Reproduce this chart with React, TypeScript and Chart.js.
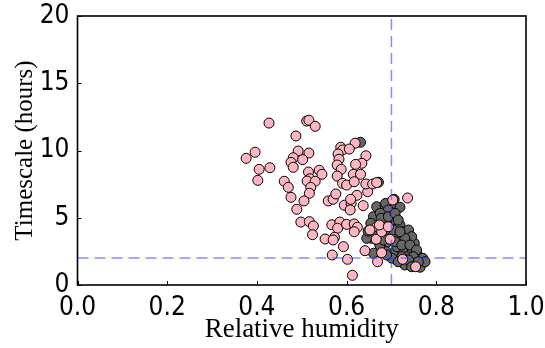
import React, { useEffect, useRef } from "react";
import { Chart, registerables } from "chart.js";

Chart.register(...registerables);

// Pink series (relative humidity, timescale in hours)
const pinkX = [
  0.427, 0.511, 0.516, 0.530, 0.487, 0.376, 0.396, 0.492, 0.516, 0.481,
  0.476, 0.481, 0.502, 0.405, 0.429, 0.402, 0.461, 0.470, 0.515, 0.539,
  0.545, 0.518, 0.512, 0.530, 0.520, 0.517, 0.476, 0.505, 0.489, 0.559,
  0.570, 0.576, 0.595, 0.610, 0.608, 0.623, 0.637, 0.647, 0.498, 0.517,
  0.526, 0.524, 0.567, 0.585, 0.580, 0.573, 0.552, 0.570, 0.600, 0.617,
  0.624, 0.617, 0.593, 0.568, 0.602, 0.641, 0.613, 0.667, 0.666, 0.669,
  0.587, 0.591, 0.581, 0.619, 0.606, 0.583, 0.579, 0.588, 0.643, 0.634,
  0.620, 0.579, 0.591, 0.600, 0.615, 0.631, 0.617, 0.643, 0.658, 0.609,
  0.736, 0.652, 0.678, 0.673, 0.703, 0.697, 0.678, 0.725, 0.754, 0.667,
  0.693,
];
const pinkY = [
  12.04, 12.19, 12.25, 11.80, 11.08, 9.42, 9.87, 9.96, 9.81, 9.46,
  9.12, 8.75, 9.32, 8.60, 8.72, 7.78, 7.71, 7.26, 8.40, 8.53,
  8.23, 7.90, 7.73, 7.71, 7.26, 6.82, 6.52, 6.25, 5.63, 6.25,
  6.37, 6.77, 5.93, 6.07, 5.58, 6.67, 5.90, 6.94, 4.68, 4.71,
  4.39, 3.74, 4.48, 4.68, 4.22, 3.55, 3.42, 3.35, 4.51, 4.54,
  4.29, 3.96, 2.85, 2.23, 1.91, 2.55, 0.72, 4.33, 3.40, 1.73,
  10.24, 10.04, 9.74, 10.54, 10.11, 9.35, 8.92, 8.60, 9.61, 9.05,
  8.97, 8.10, 7.56, 7.43, 8.23, 8.23, 7.68, 7.51, 7.51, 6.37,
  6.47, 4.09, 3.96, 4.46, 6.32, 3.40, 2.40, 1.91, 1.36, 7.61,
  4.33,
];

// Gray series
const grayX = [
  0.631, 0.671, 0.667, 0.686, 0.706, 0.708, 0.719, 0.678, 0.660, 0.698,
  0.706, 0.689, 0.719, 0.725, 0.732, 0.713, 0.704, 0.656, 0.645, 0.671,
  0.689, 0.719, 0.734, 0.751, 0.741, 0.708, 0.725, 0.756, 0.770, 0.749,
  0.764, 0.730, 0.701, 0.688, 0.660, 0.674, 0.734, 0.712, 0.687, 0.693,
  0.675, 0.654, 0.677, 0.693, 0.708, 0.715, 0.738, 0.745, 0.730, 0.719,
  0.686, 0.667, 0.682, 0.708, 0.723, 0.741, 0.756, 0.749, 0.775, 0.760,
  0.738, 0.723, 0.689, 0.715, 0.745, 0.648,
];
const grayY = [
  10.61, 7.64, 5.82, 5.87, 6.37, 5.82, 5.78, 5.20, 5.08, 5.20,
  4.83, 4.59, 4.46, 3.96, 3.64, 3.84, 4.09, 3.47, 3.47, 3.22,
  3.14, 3.22, 3.22, 3.10, 2.73, 2.48, 2.48, 2.36, 1.99, 1.73,
  1.32, 1.49, 1.99, 2.48, 2.36, 2.97, 2.10, 2.85, 6.07, 5.58,
  5.33, 4.59, 4.96, 5.08, 5.33, 4.83, 4.09, 3.59, 3.47, 3.96,
  4.09, 3.96, 3.35, 3.22, 2.97, 2.97, 2.60, 2.10, 1.73, 1.73,
  1.86, 2.10, 2.23, 1.73, 1.36, 4.01,
];

// Reference lines
const rhThreshold = [0.7];
const timeThreshold = [2];

const xTickValues = [0, 0.2, 0.4, 0.6, 0.8, 1.0];
const xTickLabels = ["0.0", "0.2", "0.4", "0.6", "0.8", "1.0"];
const yTickValues = [0, 5, 10, 15, 20];
const yTickLabels = ["0", "5", "10", "15", "20"];

const xTitle = "Relative humidity";
const yTitle = "Timescale (hours)";

const tickFont = "'DejaVu Sans Condensed', 'DejaVu Sans', sans-serif";
const titleFont = "'Liberation Serif', 'DejaVu Serif', serif";

const framePlugin = {
  id: "frameTicks",
  afterDraw(chart: any) {
    const { ctx, chartArea, scales } = chart;
    const { left, right, top, bottom } = chartArea;
    ctx.save();
    ctx.strokeStyle = "#000";
    ctx.lineWidth = 1;
    ctx.beginPath();
    xTickValues.forEach((v) => {
      const px = Math.round(scales.x.getPixelForValue(v)) + 0.5;
      ctx.moveTo(px, bottom);
      ctx.lineTo(px, bottom - 4);
    });
    yTickValues.forEach((v) => {
      const py = Math.round(scales.y.getPixelForValue(v)) + 0.5;
      ctx.moveTo(left, py);
      ctx.lineTo(left + 4, py);
    });
    ctx.stroke();
    ctx.lineWidth = 1.6;
    ctx.strokeRect(left, top, right - left, bottom - top);
    ctx.restore();
  },
};

export default function App() {
  const ref = useRef<HTMLCanvasElement | null>(null);
  useEffect(() => {
    if (!ref.current) return;
    const pink = pinkX.map((x, i) => ({ x, y: pinkY[i] }));
    const gray = grayX.map((x, i) => ({ x, y: grayY[i] }));
    const vLine = [
      { x: rhThreshold[0], y: 0 },
      { x: rhThreshold[0], y: 20 },
    ];
    const hLine = [
      { x: 0, y: timeThreshold[0] },
      { x: 1, y: timeThreshold[0] },
    ];
    const lineStyle = {
      showLine: true,
      pointRadius: 0,
      borderColor: "rgba(60,60,255,0.6)",
      borderWidth: 1.5,
      borderDash: [11, 6],
      fill: false,
    };
    const chart = new Chart(ref.current, {
      type: "scatter",
      data: {
        datasets: [
          { label: "rh", data: vLine, ...lineStyle } as any,
          { label: "ts", data: hLine, ...lineStyle } as any,
          {
            label: "pink",
            data: pink,
            backgroundColor: "#ffb6c1",
            borderColor: "#000",
            borderWidth: 1,
            pointRadius: 5,
          },
          {
            label: "gray",
            data: gray,
            backgroundColor: "#666666",
            borderColor: "#000",
            borderWidth: 1,
            pointRadius: 5,
          },
        ],
      },
      options: {
        responsive: false,
        animation: false,
        events: [],
        layout: { padding: { top: 16, right: 19, left: 0, bottom: 0 } },
        plugins: {
          legend: { display: false },
          tooltip: { enabled: false },
        },
        scales: {
          x: {
            type: "linear",
            min: 0,
            max: 1,
            afterFit: (s: any) => {
              s.height = 63;
              s.paddingLeft = 0;
              s.paddingRight = 0;
            },
            afterBuildTicks: (s: any) => {
              s.ticks = xTickValues.map((v) => ({ value: v }));
            },
            grid: { display: false, drawTicks: false },
            border: { display: false },
            ticks: {
              color: "#000",
              padding: 8,
              font: { family: tickFont, size: 26 },
              maxRotation: 0,
              callback: (v: any) => {
                const i = xTickValues.findIndex((t) => Math.abs(t - v) < 1e-6);
                return i >= 0 ? xTickLabels[i] : "";
              },
            },
            title: {
              display: true,
              text: xTitle,
              color: "#000",
              font: { family: titleFont, size: 27 },
              padding: { top: 2, bottom: 2 },
            },
          },
          y: {
            type: "linear",
            min: 0,
            max: 20,
            afterFit: (s: any) => {
              s.width = 77.5;
              s.paddingTop = 0;
              s.paddingBottom = 0;
            },
            afterBuildTicks: (s: any) => {
              s.ticks = yTickValues.map((v) => ({ value: v }));
            },
            grid: { display: false, drawTicks: false },
            border: { display: false },
            ticks: {
              color: "#000",
              padding: 8,
              font: { family: tickFont, size: 26 },
              callback: (v: any) => {
                const i = yTickValues.findIndex((t) => Math.abs(t - v) < 1e-6);
                return i >= 0 ? yTickLabels[i] : "";
              },
            },
            title: {
              display: true,
              text: yTitle,
              color: "#000",
              font: { family: titleFont, size: 25 },
              padding: { top: 10, bottom: 0 },
            },
          },
        },
      },
      plugins: [framePlugin],
    });
    return () => chart.destroy();
  }, []);
  return (
    <div style={{ position: "fixed", left: 0, top: 0, width: 545, height: 348, background: "#fff" }}>
      <canvas ref={ref} width={545} height={348} style={{ width: 545, height: 348, display: "block" }} />
    </div>
  );
}
